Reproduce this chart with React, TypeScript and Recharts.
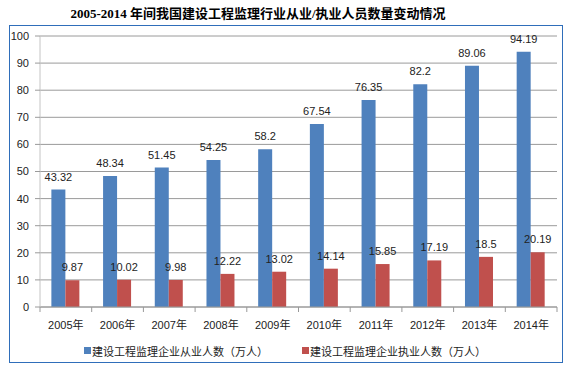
import React from "react";
import { BarChart, Bar, XAxis, YAxis, CartesianGrid, LabelList } from "recharts";

const years = ["2005年", "2006年", "2007年", "2008年", "2009年", "2010年", "2011年", "2012年", "2013年", "2014年"];
const practitioners = [43.32, 48.34, 51.45, 54.25, 58.2, 67.54, 76.35, 82.2, 89.06, 94.19];
const licensed = [9.87, 10.02, 9.98, 12.22, 13.02, 14.14, 15.85, 17.19, 18.5, 20.19];
const yTicks = [0, 10, 20, 30, 40, 50, 60, 70, 80, 90, 100];
const seriesNames = ["建设工程监理企业从业人数（万人）", "建设工程监理企业执业人数（万人）"];
const title = "2005-2014 年间我国建设工程监理行业从业/执业人员数量变动情况";

const data = years.map((y, i) => ({ year: y, a: practitioners[i], b: licensed[i] }));

const BLUE = "#4F81BD";
const RED = "#C0504D";
const FONT = "'Liberation Sans', Arial, 'Noto Sans CJK SC', sans-serif";

const XTick = (props: any) => {
  const { x, y, payload, width, visibleTicksCount, index } = props;
  const band = width / visibleTicksCount;
  const left = x - band / 2;
  const right = x + band / 2;
  return (
    <g>
      <line x1={left} y1={y - 8} x2={left} y2={y - 3} stroke="#999" />
      {index === visibleTicksCount - 1 && (
        <line x1={right} y1={y - 8} x2={right} y2={y - 3} stroke="#999" />
      )}
      <text x={x} y={y} dy={14} textAnchor="middle" fontSize={11} fill="#222" fontFamily={FONT}>
        {payload.value}
      </text>
    </g>
  );
};

const LegendBox = () => (
  <div style={{ position: "absolute", left: 0, top: 343, height: 16, width: 570, fontFamily: FONT, fontSize: 11, color: "#222" }}>
    <div style={{ position: "absolute", left: 84, top: 4, width: 7, height: 7, background: BLUE }} />
    <div style={{ position: "absolute", left: 92, top: 0, whiteSpace: "nowrap" }}>{seriesNames[0]}</div>
    <div style={{ position: "absolute", left: 302, top: 4, width: 7, height: 7, background: RED }} />
    <div style={{ position: "absolute", left: 310, top: 0, whiteSpace: "nowrap" }}>{seriesNames[1]}</div>
  </div>
);

export default function App() {
  return (
    <div style={{ position: "absolute", left: 0, top: 0, width: 570, height: 372, background: "#fff" }}>
      <div
        style={{
          position: "absolute",
          left: 0,
          top: 3,
          width: 516,
          textAlign: "center",
          fontFamily: "'Liberation Serif', 'Noto Sans CJK SC', serif",
          fontWeight: "bold",
          fontSize: 13,
          color: "#000",
          whiteSpace: "nowrap",
        }}
      >
        {title}
      </div>
      <div
        style={{
          position: "absolute",
          left: 9,
          top: 25,
          width: 552,
          height: 336,
          border: "1.5px solid #2F6EBA",
        }}
      />
      <div style={{ position: "absolute", left: 0, top: 0 }}>
        <BarChart
          width={570}
          height={372}
          data={data}
          margin={{ top: 36, right: 13, bottom: 0, left: 0 }}
          barCategoryGap="22%"
          barGap={0}
        >
          <CartesianGrid vertical={false} stroke="#9a9a9a" strokeWidth={1} />
          <XAxis
            dataKey="year"
            axisLine={{ stroke: "#9a9a9a" }}
            tickLine={false}
            tick={<XTick />}
            interval={0}
            height={65}
          />
          <YAxis
            domain={[0, 100]}
            ticks={yTicks}
            width={40}
            axisLine={{ stroke: "#c4c4c4" }}
            tickLine={{ stroke: "#9a9a9a" }}
            tickSize={5}
            tickMargin={6}
            tick={{ fontSize: 11, fill: "#222", fontFamily: FONT }}
            interval={0}
          />
          <Bar dataKey="a" fill={BLUE} isAnimationActive={false} name={seriesNames[0]}>
            <LabelList dataKey="a" position="top" offset={9} fontSize={11} fill="#222" fontFamily={FONT} />
          </Bar>
          <Bar dataKey="b" fill={RED} isAnimationActive={false} name={seriesNames[1]}>
            <LabelList dataKey="b" position="top" offset={9} fontSize={11} fill="#222" fontFamily={FONT} />
          </Bar>
        </BarChart>
      </div>
      <LegendBox />
    </div>
  );
}
